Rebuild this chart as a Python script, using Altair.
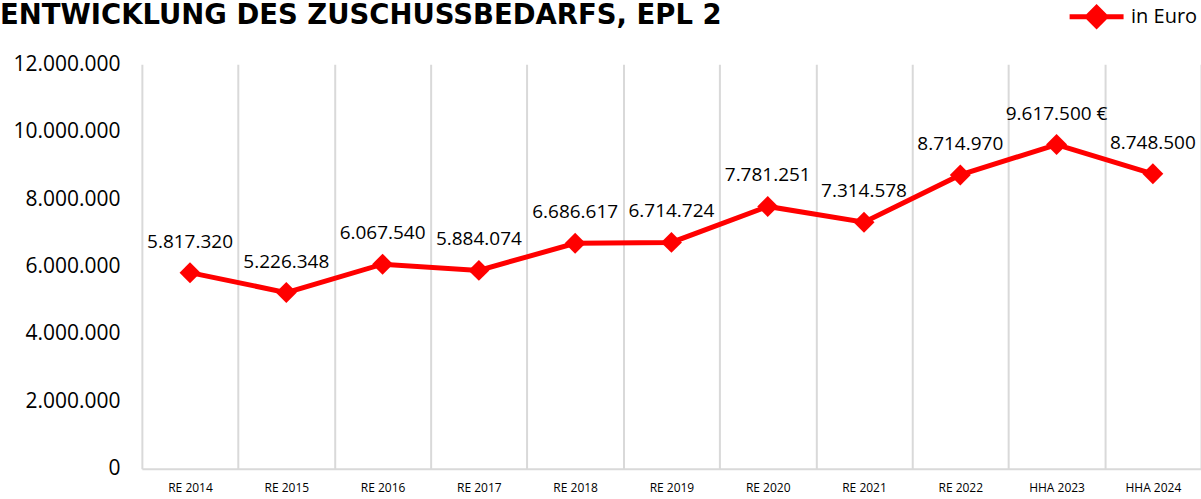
import altair as alt
import pandas as pd

categories = ["RE 2014", "RE 2015", "RE 2016", "RE 2017", "RE 2018", "RE 2019",
              "RE 2020", "RE 2021", "RE 2022", "HHA 2023", "HHA 2024"]
values = [5817320, 5226348, 6067540, 5884074, 6686617, 6714724,
          7781251, 7314578, 8714970, 9617500, 8748500]
label_suffix = ["", "", "", "", "", "", "", "", "", " €", ""]
series_name = "in Euro"
y_ticks = [0, 2000000, 4000000, 6000000, 8000000, 10000000, 12000000]
title_text = "ENTWICKLUNG DES ZUSCHUSSBEDARFS, EPL 2"

labels = [f"{v:,}".replace(",", ".") + s for v, s in zip(values, label_suffix)]
df = pd.DataFrame({"cat": categories, "value": values, "label": labels,
                   "series": [series_name] * len(categories)})

RED = "#FF0000"
GRID = "#D9D9D9"
FONT = "Open Sans"

x = alt.X("cat:N", sort=categories, bandPosition=0.5,
          scale=alt.Scale(type="band", paddingInner=0, paddingOuter=0),
          axis=alt.Axis(title=None, labelAngle=0, tickBand="extent", grid=True,
                        gridColor=GRID, gridWidth=2, ticks=False,
                        domainColor=GRID, domainWidth=2, labelFont=FONT,
                        labelFontSize=12, labelColor="black", labelPadding=14))
y = alt.Y("value:Q", scale=alt.Scale(domain=[0, 12000000]),
          axis=alt.Axis(title=None, values=y_ticks,
                        labelExpr="replace(format(datum.value, ',d'), regexp(',', 'g'), '.')",
                        domain=False, ticks=False, grid=False, labelFont=FONT,
                        labelFontSize=21, labelColor="black", labelPadding=22))
color = alt.Color("series:N", scale=alt.Scale(range=[RED]),
                  legend=alt.Legend(title=None, orient="none", legendX=926, legendY=-77,
                                    symbolType="M-1,0L1,0M-0.34,0L0,-0.34L0.34,0L0,0.34Z",
                                    symbolSize=2916, symbolStrokeWidth=5,
                                    symbolFillColor=RED, symbolStrokeColor=RED,
                                    labelFont=FONT, labelFontSize=20, labelColor="black",
                                    labelOffset=5))

base = alt.Chart(df)
line = base.mark_line(strokeWidth=5).encode(x=x, y=y, color=color)
pts = base.mark_point(shape="diamond", filled=True, size=440, opacity=1).encode(x=x, y=y, color=color)
txt = base.mark_text(dy=-31, fontSize=19, font=FONT, color="black").encode(x=x, y=y, text="label:N")

chart = alt.layer(line, pts, txt).properties(
    width=1060, height=405,
    title=alt.TitleParams(title_text, anchor="start", frame="group", dx=-142, dy=54,
                          font="DejaVu Sans", fontSize=27.5, fontWeight="bold",
                          color="black", offset=12),
    autosize=alt.AutoSizeParams(type="none"),
    padding={"left": 142, "top": 64, "right": 0, "bottom": 30},
).configure_view(stroke=None)

chart.save("out.html", embed_options={"renderer": "svg", "actions": False})
